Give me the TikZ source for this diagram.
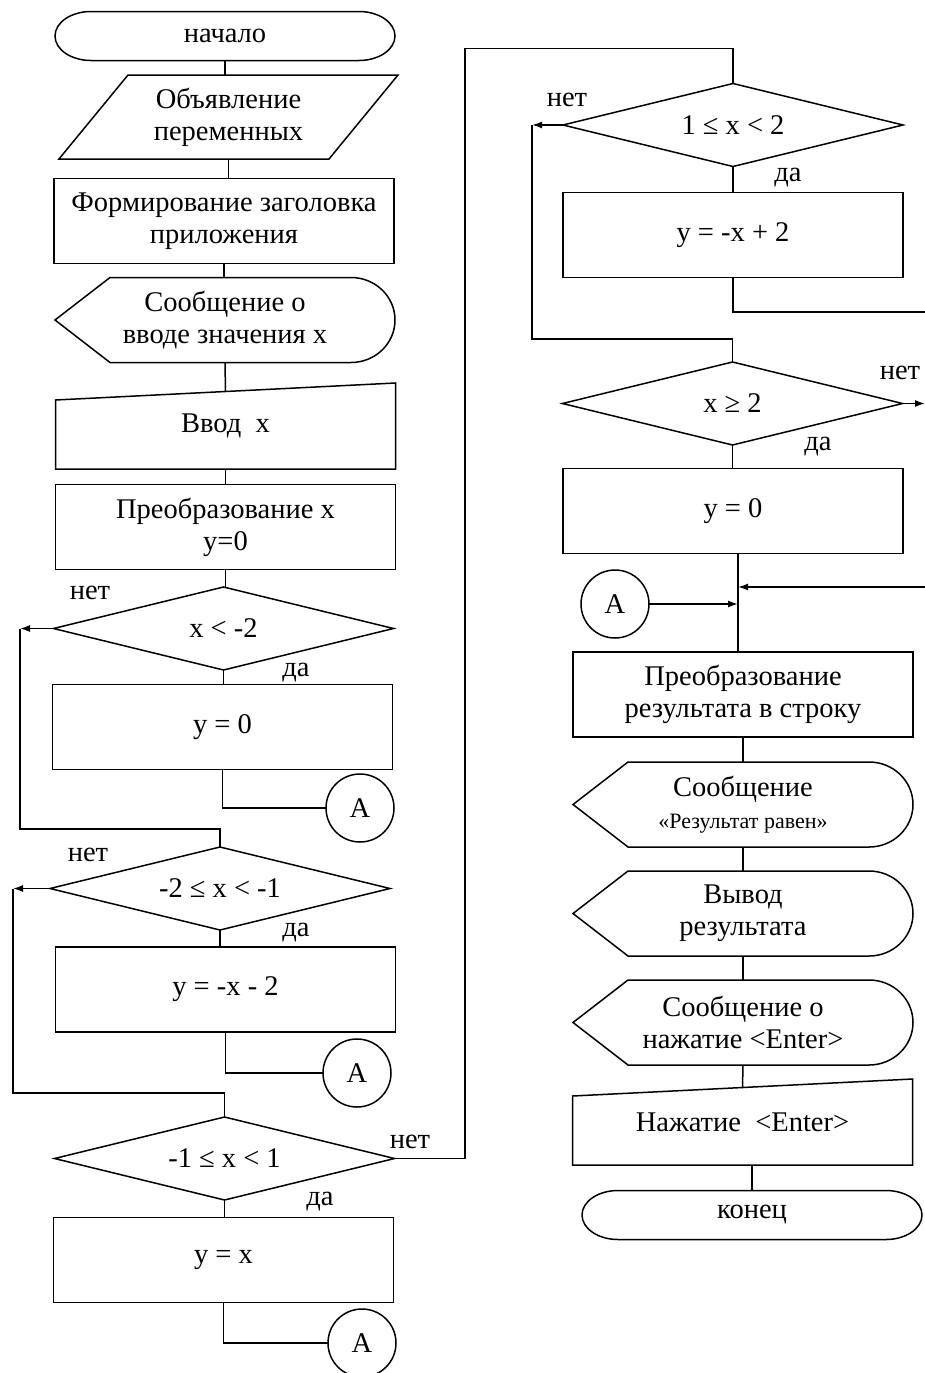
\documentclass[tikz,border=0pt]{standalone}
\usepackage{fontspec}
\setmainfont{Liberation Serif}
\usetikzlibrary{shapes.geometric,arrows.meta}

\tikzset{
  base/.style={font=\fontsize{28.5}{32}\selectfont,align=center,inner sep=0pt,outer sep=0pt},
  proc/.style={base,draw,rectangle,minimum width=340pt,minimum height=85pt},
  box/.style={base,rectangle,minimum width=340pt,minimum height=85pt},
  term/.style={base,rectangle,minimum width=340pt,minimum height=49pt},
  cond/.style={base,draw,diamond,aspect=4.1,minimum width=340pt,minimum height=83pt},
  conn/.style={base,draw,circle,minimum size=68pt},
  lbl/.style={base},
  arr/.style={-{Latex[length=10pt,width=7pt]}}
}

\begin{document}
\begin{tikzpicture}[x=1pt,y=-1pt,line width=1.5pt]
  \path[use as bounding box,fill=white] (0,0) rectangle (925,1373);

  % left column
  \node[term] (nstart) at (225,36) {начало};
  \node[box,minimum width=339pt,minimum height=84pt] (ndecl) at (228.5,117) {Объявление\\переменных};
  \node[proc] (ntitle) at (224,221) {Формирование заголовка\\приложения};
  \node[box] (nmsg) at (225,320) {Сообщение о\\вводе значения x};
  \node[box,minimum height=86pt] (ninput) at (225.5,426) {Ввод\ \ x};
  \node[proc] (nconv) at (225.5,527) {Преобразование x\\y=0};
  \node[cond] (nif1) at (223.5,628.5) {x < -2};
  \node[proc] (ny1) at (222.5,727) {y = 0};
  \node[conn] (nA1) at (360,808) {A};
  \node[cond] (nif2) at (220,888.5) {-2 ≤ x < -1};
  \node[proc] (ny2) at (225.5,989.5) {y = -x - 2};
  \node[conn] (nA2) at (357,1073) {A};
  \node[cond] (nif3) at (224.5,1158.5) {-1 ≤ x < 1};
  \node[proc] (ny3) at (223.5,1260) {y = x};
  \node[conn] (nA3) at (362,1343) {A};

  % right column
  \node[cond] (nif4) at (733,125) {1 ≤ x < 2};
  \node[proc] (ny4) at (733,235) {y = -x + 2};
  \node[cond] (nif5) at (732.5,403.5) {x ≥ 2};
  \node[proc] (ny5) at (733,511) {y = 0};
  \node[conn] (nA4) at (615,604) {A};
  \node[proc] (nres) at (743,694.5) {Преобразование\\результата в строку};
  \node[box] (nmsg2) at (743,804.5) {Сообщение\\{\fontsize{22}{26}\selectfont «Результат равен»}};
  \node[box] (nout) at (743,913.5) {Вывод\\результата};
  \node[box] (nmsg3) at (743,1022.5) {Сообщение о\\нажатие <Enter>};
  \node[box,minimum height=86pt] (nkey) at (742.5,1122) {Нажатие\ \ <Enter>};
  \node[term] (nend) at (752,1215) {конец};

  % labels
  \node[lbl] (lno1) at (90,593) {нет};
  \node[lbl] (lyes1) at (296,673) {да};
  \node[lbl] (lno2) at (88,855) {нет};
  \node[lbl] (lyes2) at (296,933) {да};
  \node[lbl] (lno3) at (410,1142) {нет};
  \node[lbl] (lyes3) at (320,1202) {да};
  \node[lbl] (lno4) at (567,100) {нет};
  \node[lbl] (lyes4) at (788,178) {да};
  \node[lbl] (lno5) at (900,373) {нет};
  \node[lbl] (lyes5) at (818,447) {да};

  % outlines
  \foreach \n in {nstart,nend}
    \draw ([xshift=36pt]\n.north west) -- ([xshift=-36pt]\n.north east)
      arc[start angle=90,end angle=-90,x radius=36pt,y radius=24.5pt]
      -- ([xshift=36pt]\n.south west)
      arc[start angle=270,end angle=90,x radius=36pt,y radius=24.5pt] -- cycle;
  \foreach \n in {nmsg,nmsg2,nout,nmsg3}
    \draw ([xshift=55pt]\n.north west) -- ([xshift=-44pt]\n.north east)
      arc[start angle=90,end angle=-90,x radius=44pt,y radius=42.5pt]
      -- ([xshift=55pt]\n.south west) -- (\n.west) -- cycle;
  \foreach \n in {ninput,nkey}
    \draw ([yshift=-17pt]\n.north west) -- (\n.north east) -- (\n.south east) -- (\n.south west) -- cycle;
  \draw ([xshift=69pt]ndecl.north west) -- (ndecl.north east)
    -- ([xshift=-69pt]ndecl.south east) -- (ndecl.south west) -- cycle;

  % straight links
  \foreach \from/\to in {nstart/ndecl,ndecl/ntitle,ntitle/nmsg,ninput/nconv,nconv/nif1,nif1/ny1,nif2/ny2,nif3/ny3,nif4/ny4,nif5/ny5,nres/nmsg2,nmsg2/nout,nout/nmsg3}
    \draw (\from.south) -- (\from.south |- \to.north);
  \draw (nmsg.south) -- ([yshift=-8.5pt]ninput.north);
  \draw (nmsg3.south) -- ([yshift=-9pt]nkey.north);
  \draw (nend.north) -- (nend.north |- nkey.south);

  % to connectors
  \foreach \from/\to in {ny1/nA1,ny2/nA2,ny3/nA3}
    \draw (\from.south) |- (\to);

  % no branches
  \coordinate (k1) at (20,628.5);
  \coordinate (k2) at (13,888.5);
  \coordinate (k3) at (465,1158.5);
  \coordinate (k4) at (532,125);
  \draw[arr] (nif1.west) -- (k1);
  \draw (k1) |- ([yshift=18pt]nif2.north) -- (nif2.north);
  \draw[arr] (nif2.west) -- (k2);
  \draw (k2) |- ([yshift=24pt]nif3.north) -- (nif3.north);
  \draw (nif3.east) -- (k3) |- ([yshift=35pt]nif4.north) -- (nif4.north);
  \draw[arr] (nif4.west) -- (k4);
  \draw (k4) |- ([yshift=23pt]nif5.north) -- (nif5.north);

  % right edge and join
  \coordinate (e1) at (930,312);
  \coordinate (e2) at (925,403.5);
  \coordinate (e3) at (930,587);
  \coordinate (jB) at (738,587);
  \coordinate (jA) at (738,604);
  \draw (ny4.south) |- (e1);
  \draw[arr] (nif5.east) -- (e2);
  \draw[arr] (e3) -- (jB);
  \draw[arr] (nA4) -- (jA);
  \draw (ny5.south -| jB) -- (nres.north -| jB);

\end{tikzpicture}
\end{document}
